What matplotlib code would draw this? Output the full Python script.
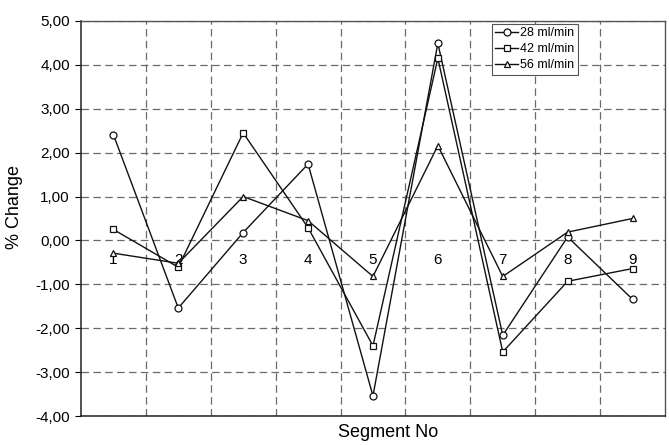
import matplotlib
matplotlib.use("Agg")
import matplotlib.pyplot as plt
from matplotlib.ticker import FixedLocator, FuncFormatter

plt.rcParams['font.family'] = ['Liberation Sans', 'DejaVu Sans']

segments = [1, 2, 3, 4, 5, 6, 7, 8, 9]
seg_labels = ['1', '2', '3', '4', '5', '6', '7', '8', '9']
s28 = [2.41, -1.54, 0.18, 1.74, -3.54, 4.49, -2.16, 0.08, -1.34]
s42 = [0.25, -0.61, 2.45, 0.29, -2.40, 4.15, -2.54, -0.93, -0.64]
s56 = [-0.29, -0.52, 1.00, 0.45, -0.82, 2.16, -0.82, 0.19, 0.50]
series_names = ['28 ml/min', '42 ml/min', '56 ml/min']
yticks = [-4, -3, -2, -1, 0, 1, 2, 3, 4, 5]

fig = plt.figure(figsize=(6.69, 4.45), dpi=100)
ax = fig.add_axes([0.121, 0.065, 0.873, 0.888])

common = dict(color='#111111', lw=1.0, markersize=5, markerfacecolor='white',
              markeredgecolor='#111111', markeredgewidth=0.9)
ax.plot(segments, s28, marker='o', label=series_names[0], **common)
ax.plot(segments, s42, marker='s', label=series_names[1], **common)
ax.plot(segments, s56, marker='^', label=series_names[2], **common)

ax.set_xlim(0.5, 9.5)
ax.set_ylim(-4, 5)
ax.set_yticks(yticks)
ax.yaxis.set_major_formatter(FuncFormatter(lambda v, p: f"{v:.2f}".replace('.', ',')))
ax.tick_params(axis='y', labelsize=11, length=4, width=0.8, direction='out', pad=4)

# vertical grid at category boundaries
ax.xaxis.set_major_locator(FixedLocator([]))
ax.xaxis.set_minor_locator(FixedLocator([s + 0.5 for s in segments[:-1]]))
ax.tick_params(axis='x', which='both', length=0, labelbottom=False)
gkw = dict(color='#6a6a6a', lw=0.9, linestyle=(0, (6, 3.5)))
ax.grid(True, which='minor', axis='x', **gkw)
ax.grid(True, which='major', axis='y', **gkw)
ax.set_axisbelow(True)

# category labels along the zero line
sec = ax.secondary_xaxis(4 / 9)
sec.set_xticks(segments)
sec.set_xticklabels(seg_labels)
sec.tick_params(length=0, labelsize=11, pad=9)
sec.spines['bottom'].set_visible(False)

for side in ['left', 'bottom']:
    ax.spines[side].set_color('#222222')
    ax.spines[side].set_linewidth(1.1)
for side in ['top', 'right']:
    ax.spines[side].set_color('#555555')
    ax.spines[side].set_linewidth(1.0)

ax.set_ylabel('% Change', fontsize=13)
ax.yaxis.set_label_coords(-0.100, 0.53)
ax.set_xlabel('Segment No', fontsize=13)
ax.xaxis.set_label_coords(0.526, -0.02)

leg = ax.legend(loc='upper left', bbox_to_anchor=(0.703, 0.993), fontsize=9,
                frameon=True, fancybox=False, framealpha=1, edgecolor='#555555',
                handlelength=1.8, handletextpad=0.2, borderpad=0.3,
                labelspacing=0.3, borderaxespad=0)
leg.get_frame().set_linewidth(0.8)

fig.savefig('out.png', dpi=100)
